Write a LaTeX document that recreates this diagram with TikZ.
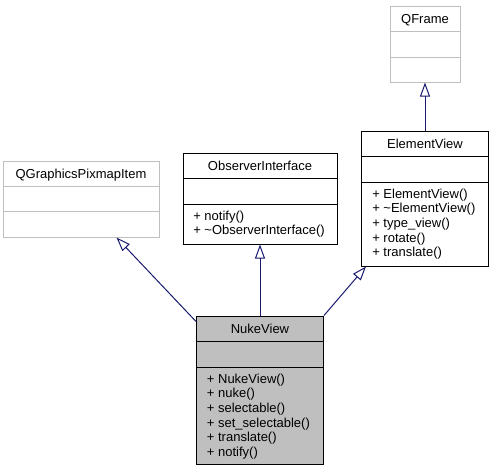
\documentclass[tikz,border=0pt]{standalone}
\usepackage{fontspec}
\setmainfont{Liberation Sans}
\definecolor{eb}{RGB}{25, 25, 112}
\definecolor{gg}{RGB}{191, 191, 191}
\usetikzlibrary{arrows.meta}

\begin{document}
\begin{tikzpicture}[every node/.style={inner sep=0pt, font=\fontsize{9.75}{11}\selectfont},
  cls/.style={rectangle, line width=0.75pt, draw=black, fill=white},
  ext/.style={rectangle, line width=0.75pt, draw=gg, fill=white},
  inh/.style={line width=0.75pt, color=eb, -{Triangle[open, length=10.5pt, width=7.5pt]}}]
\useasboundingbox (0pt, 0pt) rectangle (369.75pt, -354pt);
\node (1) [ext, minimum width=52.5pt, minimum height=57pt] at (318.75pt, -33pt) {};
\node (2) [cls, minimum width=95.25pt, minimum height=101.25pt] at (318.75pt, -148.875pt) {};
\node (3) [cls, minimum width=115.5pt, minimum height=68.25pt] at (195pt, -148.875pt) {};
\node (4) [ext, minimum width=117pt, minimum height=57pt] at (60.75pt, -149.25pt) {};
\node (5) [cls, minimum width=95.25pt, minimum height=111pt, fill=gg] at (195pt, -292.5pt) {};
\draw [line width=0.75pt, color=gg] (292.5pt, -23.25pt) -- (345pt, -23.25pt);
\draw [line width=0.75pt, color=gg] (292.5pt, -42.75pt) -- (345pt, -42.75pt);
\draw [line width=0.75pt, color=black] (271.125pt, -117pt) -- (366.375pt, -117pt);
\draw [line width=0.75pt, color=black] (271.125pt, -136.5pt) -- (366.375pt, -136.5pt);
\draw [line width=0.75pt, color=black] (137.25pt, -133.5pt) -- (252.75pt, -133.5pt);
\draw [line width=0.75pt, color=black] (137.25pt, -153pt) -- (252.75pt, -153pt);
\draw [line width=0.75pt, color=gg] (2.25pt, -139.5pt) -- (119.25pt, -139.5pt);
\draw [line width=0.75pt, color=gg] (2.25pt, -158.25pt) -- (119.25pt, -158.25pt);
\draw [line width=0.75pt, color=black] (147.375pt, -255.75pt) -- (242.625pt, -255.75pt);
\draw [line width=0.75pt, color=black] (147.375pt, -275.25pt) -- (242.625pt, -275.25pt);
\node (1t) [anchor=base] at (318.75pt, -17.25pt) {QFrame};
\node (2t) [anchor=base] at (318.75pt, -111pt) {ElementView};
\node (2a) [anchor=base west] at (279pt, -148.5pt) {+ ElementView()};
\node (2b) [anchor=base west] at (279pt, -159.5pt) {+ \textasciitilde ElementView()};
\node (2c) [anchor=base west] at (279pt, -170.5pt) {+ type\_view()};
\node (2d) [anchor=base west] at (279pt, -181.5pt) {+ rotate()};
\node (2e) [anchor=base west] at (279pt, -192.5pt) {+ translate()};
\node (3t) [anchor=base] at (195pt, -127.5pt) {ObserverInterface};
\node (3a) [anchor=base west] at (144.75pt, -165pt) {+ notify()};
\node (3b) [anchor=base west] at (144.75pt, -176pt) {+ \textasciitilde ObserverInterface()};
\node (4t) [anchor=base] at (60.75pt, -133.5pt) {QGraphicsPixmapItem};
\node (5t) [anchor=base] at (195pt, -249.75pt) {NukeView};
\node (5a) [anchor=base west] at (155pt, -287.25pt) {+ NukeView()};
\node (5b) [anchor=base west] at (155pt, -298.25pt) {+ nuke()};
\node (5c) [anchor=base west] at (155pt, -309.25pt) {+ selectable()};
\node (5d) [anchor=base west] at (155pt, -320.25pt) {+ set\_selectable()};
\node (5e) [anchor=base west] at (155pt, -331.25pt) {+ translate()};
\node (5f) [anchor=base west] at (155pt, -342.25pt) {+ notify()};
\draw [inh] (2.north) to (1.south);
\draw [inh] (5.north) to (3.south);
\draw [inh] ([yshift=-4.5pt]5.north west) to ([xshift=-32.25pt]4.south east);
\draw [inh] (5.north east) to ([xshift=3.75pt]2.south west);
\end{tikzpicture}
\end{document}
